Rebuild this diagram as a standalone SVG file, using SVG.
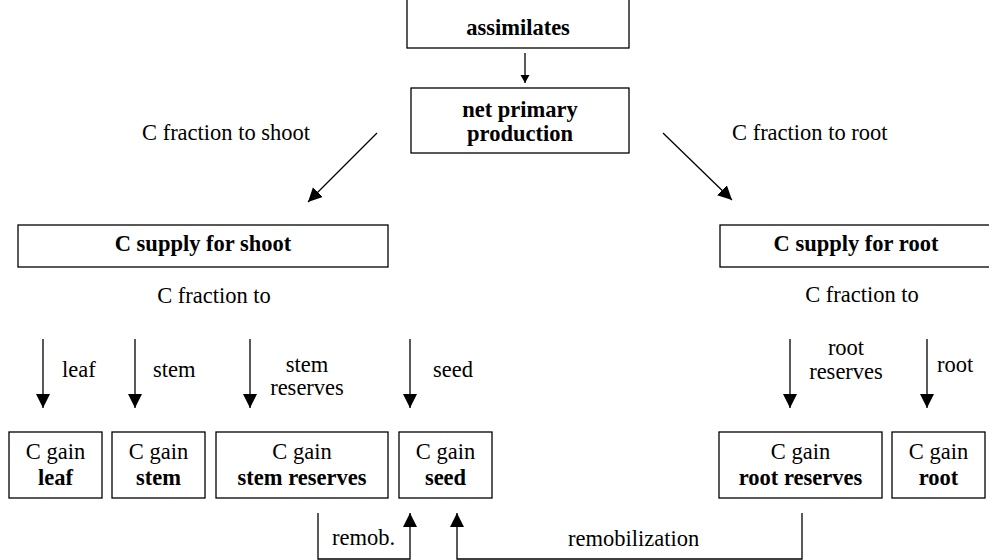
<svg xmlns="http://www.w3.org/2000/svg" width="989" height="560" viewBox="0 0 989 560">
<style>
text{font-family:'Liberation Serif','Times New Roman',Times,serif;font-size:22.5px;fill:#000}
.b{font-weight:bold}
.m{text-anchor:middle}
.box{fill:#fff;stroke:#000;stroke-width:1.3}
.ln{fill:none;stroke:#000;stroke-width:1.3}
</style>
<defs>
<marker id="ah" markerUnits="userSpaceOnUse" markerWidth="15" markerHeight="15" refX="14" refY="7" orient="auto">
<path d="M0,0 L14,7 L0,14 z" fill="#000"/>
</marker>
<marker id="ahs" markerUnits="userSpaceOnUse" markerWidth="10" markerHeight="10" refX="8" refY="4.5" orient="auto">
<path d="M0,0 L8,4.5 L0,9 z" fill="#000"/>
</marker>
</defs>
<rect width="989" height="560" fill="#fff"/>
<g id="assimilates"><rect class="box" x="407" y="-2" width="222" height="50"/><text class="b m" x="518" y="35">assimilates</text></g>
<g id="npp"><rect class="box" x="411" y="88" width="218" height="65"/><text class="b m" x="520" y="117">net primary</text><text class="b m" x="520" y="141">production</text></g>
<g id="supply-shoot"><rect class="box" x="18" y="225" width="370" height="42"/><text class="b m" x="203" y="251">C supply for shoot</text></g>
<g id="supply-root"><rect class="box" x="720" y="225" width="272" height="42"/><text class="b m" x="856" y="251">C supply for root</text></g>
<g id="gain-leaf"><rect class="box" x="9" y="432" width="93" height="66"/><text class="m" x="55.5" y="459">C gain</text><text class="b m" x="55.5" y="485">leaf</text></g>
<g id="gain-stem"><rect class="box" x="112" y="432" width="93" height="66"/><text class="m" x="158.5" y="459">C gain</text><text class="b m" x="158.5" y="485">stem</text></g>
<g id="gain-stem-reserves"><rect class="box" x="216" y="432" width="172" height="66"/><text class="m" x="302" y="459">C gain</text><text class="b m" x="302" y="485">stem reserves</text></g>
<g id="gain-seed"><rect class="box" x="399" y="432" width="93" height="66"/><text class="m" x="445.5" y="459">C gain</text><text class="b m" x="445.5" y="485">seed</text></g>
<g id="gain-root-reserves"><rect class="box" x="719" y="432" width="163" height="66"/><text class="m" x="800.5" y="459">C gain</text><text class="b m" x="800.5" y="485">root reserves</text></g>
<g id="gain-root"><rect class="box" x="892" y="432" width="93" height="66"/><text class="m" x="938.5" y="459">C gain</text><text class="b m" x="938.5" y="485">root</text></g>
<g id="labels">
<text x="142" y="140">C fraction to shoot</text>
<text x="732" y="140">C fraction to root</text>
<text class="m" x="214" y="303">C fraction to</text>
<text class="m" x="862" y="302">C fraction to</text>
<text x="62" y="377">leaf</text>
<text x="153" y="377">stem</text>
<text class="m" x="307" y="372">stem</text>
<text class="m" x="307" y="395">reserves</text>
<text x="433" y="377">seed</text>
<text class="m" x="846" y="355">root</text>
<text class="m" x="846" y="379">reserves</text>
<text x="937" y="372">root</text>
<text x="332" y="545">remob.</text>
<text x="568" y="546">remobilization</text>
</g>
<g id="connectors">
<line class="ln" x1="525" y1="53" x2="525" y2="83" marker-end="url(#ahs)"/>
<line class="ln" x1="377" y1="133" x2="308" y2="202" marker-end="url(#ah)"/>
<line class="ln" x1="663" y1="133" x2="732" y2="200" marker-end="url(#ah)"/>
<line class="ln" x1="43" y1="339" x2="43" y2="408" marker-end="url(#ah)"/>
<line class="ln" x1="135" y1="339" x2="135" y2="408" marker-end="url(#ah)"/>
<line class="ln" x1="250" y1="339" x2="250" y2="408" marker-end="url(#ah)"/>
<line class="ln" x1="410" y1="339" x2="410" y2="408" marker-end="url(#ah)"/>
<line class="ln" x1="790" y1="339" x2="790" y2="408" marker-end="url(#ah)"/>
<line class="ln" x1="927" y1="339" x2="927" y2="408" marker-end="url(#ah)"/>
<polyline class="ln" points="318,513 318,559 410,559 410,513" marker-end="url(#ah)"/>
<polyline class="ln" points="802,513 802,559 457,559 457,513" marker-end="url(#ah)"/>
</g>
</svg>
